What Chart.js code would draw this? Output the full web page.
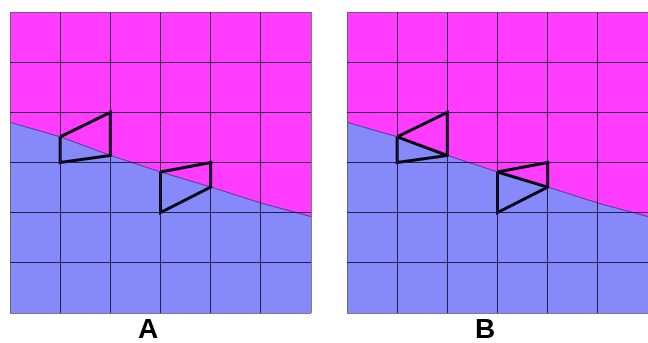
<!DOCTYPE html>
<html>
<head>
<meta charset="utf-8">
<script src="https://cdn.jsdelivr.net/npm/chart.js@4.4.1/dist/chart.umd.min.js"></script>
<style>
  html, body { margin: 0; padding: 0; background: #ffffff; }
  body { width: 648px; height: 343px; position: relative; overflow: hidden; }
  .panel { position: absolute; top: 10px; width: 305px; height: 305px; }
  .label { position: absolute; top: 313px; font-family: "Liberation Sans", Arial, sans-serif;
           font-weight: bold; font-size: 28px; line-height: 32px; color: #000; transform: translateX(-50%); }
</style>
</head>
<body>
<div class="panel" style="left:8px"><canvas id="chartA" width="305" height="305"></canvas></div>
<div class="panel" style="left:345px"><canvas id="chartB" width="305" height="305"></canvas></div>
<div class="label" style="left:148px">A</div>
<div class="label" style="left:485px">B</div>
<script>
// Grid columns / rows (cell boundaries)
const gridX = [0, 1, 2, 3, 4, 5, 6];
// Interface height at each grid column
const boundaryY = [3.8, 3.51, 3.14, 2.81, 2.51, 2.19, 1.92];
// First outlined cell polygon (x, y pairs, closed)
const cell1X = [1, 2, 2, 1, 1];
const cell1Y = [3.51, 4.0, 3.14, 3.0, 3.51];
// Second outlined cell polygon
const cell2X = [3, 4, 4, 3, 3];
const cell2Y = [2.81, 3.0, 2.51, 2.0, 2.81];
// Split segments drawn inside the cells in panel B
const split1X = [1, 2];
const split1Y = [3.51, 3.14];
const split2X = [3, 4];
const split2Y = [2.81, 2.51];

const MAGENTA = 'rgb(255, 60, 255)';
const BLUE = 'rgb(134, 137, 250)';

function pts(xs, ys) { return xs.map((x, i) => ({ x: x, y: ys[i] })); }

function outline(xs, ys) {
  return {
    data: pts(xs, ys), showLine: true, fill: false, order: 0,
    borderColor: '#050510', borderWidth: 3, borderJoinStyle: 'miter',
    pointRadius: 0, tension: 0
  };
}

function makeChart(id, withSplit) {
  const boundary = pts(gridX, boundaryY);
  const datasets = [
    { data: boundary, showLine: true, fill: 'end', backgroundColor: MAGENTA, order: 2,
      borderColor: 'rgba(70, 50, 130, 0.7)', borderWidth: 1, pointRadius: 0 },
    { data: boundary, showLine: true, fill: 'start', backgroundColor: BLUE, order: 1,
      borderColor: 'rgba(70, 50, 130, 0.7)', borderWidth: 1, pointRadius: 0 },
    outline(cell1X, cell1Y),
    outline(cell2X, cell2Y)
  ];
  if (withSplit) {
    datasets.push(outline(split1X, split1Y));
    datasets.push(outline(split2X, split2Y));
  }
  const gridColor = (ctx) => (ctx.tick && (ctx.tick.value === 0 || ctx.tick.value === 6))
    ? 'rgba(90, 90, 110, 0.8)' : 'rgba(25, 20, 50, 0.9)';
  const axis = {
    type: 'linear', min: 0, max: 6,
    ticks: { display: false, stepSize: 1 },
    grid: { drawTicks: false, color: gridColor, lineWidth: 1, z: 1 },
    border: { display: false }
  };
  return new Chart(document.getElementById(id), {
    type: 'scatter',
    data: { datasets: datasets },
    options: {
      responsive: false, animation: false,
      layout: { padding: 2 },
      plugins: { legend: { display: false }, tooltip: { enabled: false } },
      scales: { x: axis, y: Object.assign({}, axis) }
    }
  });
}

makeChart('chartA', false);
makeChart('chartB', true);
</script>
</body>
</html>
